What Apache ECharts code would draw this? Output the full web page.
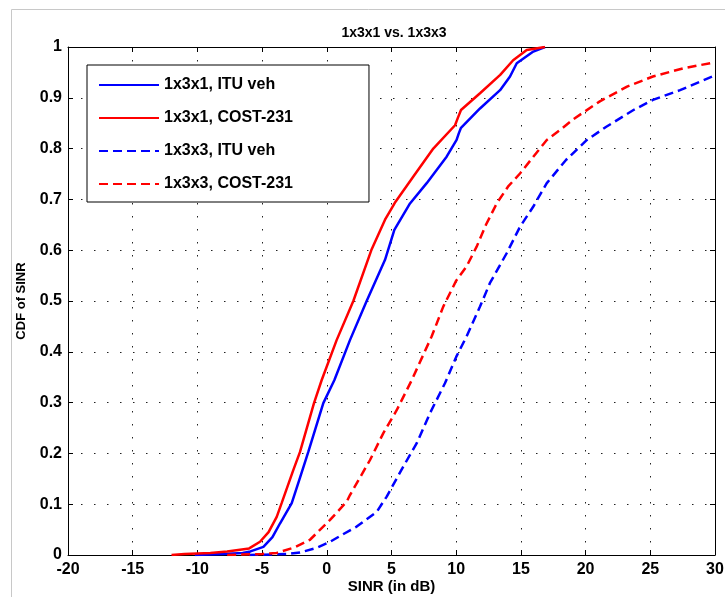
<!DOCTYPE html>
<html>
<head>
<meta charset="utf-8">
<script src="https://cdn.jsdelivr.net/npm/echarts@6/dist/echarts.min.js"></script>
<style>
html,body{margin:0;padding:0;background:#fff;}
#chart{width:725px;height:597px;}
</style>
</head>
<body>
<div id="chart"></div>
<script>
var titleText = '1x3x1 vs. 1x3x3';
var xAxisName = 'SINR (in dB)';
var yAxisName = 'CDF of SINR';
var xMin = -20, xMax = 30, xStep = 5;
var yMin = 0, yMax = 1, yStep = 0.1;
var seriesNames = ['1x3x1, ITU veh', '1x3x1, COST-231', '1x3x3, ITU veh', '1x3x3, COST-231'];

var ituSolid = [[-10.2,0],[-8,0.002],[-6.5,0.004],[-5.9,0.007],[-4.9,0.016],[-4.2,0.035],[-3.62,0.062],[-2.71,0.102],[-2.1,0.15],[-1.43,0.203],[-0.27,0.299],[0.58,0.344],[1.79,0.423],[3.08,0.5],[4.5,0.581],[5.22,0.64],[6.43,0.692],[7.72,0.732],[9.26,0.784],[10.03,0.817],[10.2,0.83],[10.37,0.841],[11.84,0.879],[13.39,0.915],[14.16,0.942],[14.68,0.968],[15.96,0.991],[16.86,1]];
var costSolid = [[-12,0],[-11,0.002],[-9,0.004],[-7.7,0.007],[-6,0.013],[-5.16,0.026],[-4.5,0.045],[-3.87,0.075],[-3.49,0.102],[-2.59,0.167],[-2.07,0.203],[-0.99,0.299],[-0.4,0.344],[0.76,0.423],[2.05,0.5],[3.47,0.602],[4.5,0.66],[5.0,0.682],[5.3,0.695],[6.69,0.745],[8.23,0.8],[9.91,0.846],[10.15,0.862],[10.37,0.876],[11.84,0.909],[13.4,0.945],[14.4,0.974],[15.45,0.994],[16.86,1]];
var ituDashed = [[-6,0],[-3,0.002],[-2.07,0.005],[-0.78,0.014],[0.25,0.026],[1.2,0.04],[2.31,0.056],[3.86,0.085],[4.63,0.115],[5.91,0.174],[6.95,0.22],[7.97,0.279],[9.13,0.338],[10.0,0.39],[10.8,0.43],[11.84,0.489],[12.6,0.535],[13.9,0.594],[14.93,0.646],[15.96,0.686],[17,0.732],[18.5,0.778],[20.1,0.817],[21.6,0.843],[23.7,0.876],[25.2,0.896],[27.3,0.915],[30,0.944]];
var costDashed = [[-7.7,0],[-5,0.002],[-3.87,0.004],[-2.5,0.015],[-1.3,0.03],[0.25,0.069],[1.54,0.105],[1.79,0.118],[3.34,0.187],[4.37,0.24],[5.4,0.285],[6.56,0.344],[8.1,0.43],[9.0,0.489],[10.0,0.54],[10.8,0.568],[11.58,0.607],[12.3,0.65],[13.13,0.692],[14.0,0.725],[14.93,0.751],[15.96,0.784],[17,0.817],[18,0.836],[19.06,0.858],[21.1,0.893],[23.2,0.922],[25.2,0.942],[27.55,0.958],[30,0.97]];

var FONT = '"Liberation Sans", Arial, Helvetica, sans-serif';
var chart = echarts.init(document.getElementById('chart'), null, {renderer: 'canvas'});

function mkSeries(name, data, color, dashed) {
  return {
    name: name, type: 'line', data: data, xAxisIndex: 0, yAxisIndex: 0,
    showSymbol: false, symbol: 'none', smooth: false, clip: true,
    lineStyle: {color: color, width: 2.5, type: dashed ? [9, 5] : 'solid'},
    itemStyle: {color: color},
    z: 3
  };
}

var dotted = {show: true, lineStyle: {color: '#222', width: 1, type: [1.5, 11.5]}};

chart.setOption({
  animation: false,
  backgroundColor: '#fff',
  title: {
    text: titleText, left: 389, top: 21, textAlign: 'center',
    textStyle: {fontFamily: FONT, fontWeight: 'bold', fontSize: 14, color: '#000'}
  },
  graphic: [{
    type: 'rect', shape: {x: 11.5, y: 9.5, width: 800, height: 700},
    style: {fill: 'none', stroke: '#c8c8c8', lineWidth: 1}, z: -10, silent: true
  }],
  grid: {left: 68, top: 47, right: 10, bottom: 42, containLabel: false, outerBoundsMode: 'none'},
  legend: {
    left: 87, top: 65, orient: 'vertical',
    itemWidth: 60, itemHeight: 14, itemGap: 17,
    padding: [12, 76, 10, 11],
    backgroundColor: '#fff', borderColor: '#000', borderWidth: 1,
    itemStyle: {opacity: 0, borderWidth: 0},
    textStyle: {fontFamily: FONT, fontWeight: 'bold', fontSize: 16, color: '#000'},
    data: seriesNames,
    z: 10
  },
  xAxis: [{
    type: 'value', position: 'bottom', min: xMin, max: xMax, interval: xStep,
    name: xAxisName, nameLocation: 'middle', nameGap: 24, nameMoveOverlap: false,
    nameTextStyle: {fontFamily: FONT, fontWeight: 'bold', fontSize: 15, color: '#000'},
    axisLine: {show: true, onZero: false, lineStyle: {color: '#000', width: 1}},
    axisTick: {show: true, inside: true, length: 5, lineStyle: {color: '#000'}},
    axisLabel: {margin: 7, fontFamily: FONT, fontWeight: 'bold', fontSize: 16, color: '#000'},
    splitLine: dotted
  }, {
    type: 'value', position: 'top', min: xMin, max: xMax, interval: xStep,
    axisLine: {show: true, onZero: false, lineStyle: {color: '#000', width: 1}},
    axisTick: {show: true, inside: true, length: 5, lineStyle: {color: '#000'}},
    axisLabel: {show: false}, splitLine: {show: false}
  }],
  yAxis: [{
    type: 'value', position: 'left', min: yMin, max: yMax, interval: yStep,
    name: yAxisName, nameLocation: 'middle', nameGap: 40, nameMoveOverlap: false,
    nameTextStyle: {fontFamily: FONT, fontWeight: 'bold', fontSize: 13, color: '#000'},
    axisLine: {show: true, onZero: false, lineStyle: {color: '#000', width: 1}},
    axisTick: {show: true, inside: true, length: 5, lineStyle: {color: '#000'}},
    axisLabel: {margin: 6, fontFamily: FONT, fontWeight: 'bold', fontSize: 16, color: '#000'},
    splitLine: dotted
  }, {
    type: 'value', position: 'right', min: yMin, max: yMax, interval: yStep,
    axisLine: {show: true, onZero: false, lineStyle: {color: '#000', width: 1}},
    axisTick: {show: true, inside: true, length: 5, lineStyle: {color: '#000'}},
    axisLabel: {show: false}, splitLine: {show: false}
  }],
  series: [
    mkSeries(seriesNames[0], ituSolid, '#0000ff', false),
    mkSeries(seriesNames[1], costSolid, '#ff0000', false),
    mkSeries(seriesNames[2], ituDashed, '#0000ff', true),
    mkSeries(seriesNames[3], costDashed, '#ff0000', true)
  ]
});
</script>
</body>
</html>
